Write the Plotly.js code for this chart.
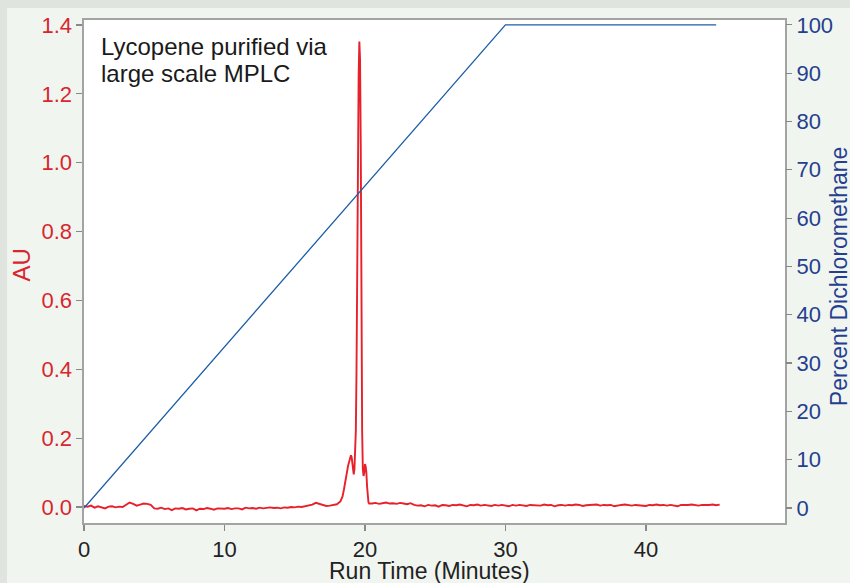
<!DOCTYPE html>
<html>
<head>
<meta charset="utf-8">
<script src="https://cdn.plot.ly/plotly-3.0.1.min.js"></script>
<style>
  html, body { margin: 0; padding: 0; background: #dfe4df; width: 850px; height: 583px; overflow: hidden; }
  #chart { position: absolute; left: 7px; top: 8px; width: 843px; height: 575px; }
</style>
</head>
<body>
<div id="chart"></div>
<script>
// Chromatogram (absorbance, AU) vs run time (minutes)
const runTime = [
  0,0.25,0.5,0.75,1,1.25,1.5,1.75,
  2,2.25,2.5,2.75,3,3.25,3.5,3.75,
  4,4.25,4.5,4.75,5,5.25,5.5,5.75,
  6,6.25,6.5,6.75,7,7.25,7.5,7.75,
  8,8.25,8.5,8.75,9,9.25,9.5,9.75,
  10,10.25,10.5,10.75,11,11.25,11.5,11.75,
  12,12.25,12.5,12.75,13,13.25,13.5,13.75,
  14,14.25,14.5,14.75,15,15.25,15.5,15.75,
  16,16.25,16.5,16.75,17,17.25,17.5,17.75,
  18,18.25,
  18.4,18.5,18.6,18.7,18.8,18.9,19,19.05,
  19.1,19.15,19.2,19.25,19.3,19.35,19.4,19.45,
  19.5,19.55,19.6,19.65,19.7,19.75,19.8,19.85,
  19.9,19.95,20,20.05,20.1,20.15,20.2,20.25,
  20.3,20.4,
  20.5,20.75,21,21.25,21.5,21.75,22,22.25,
  22.5,22.75,23,23.25,23.5,23.75,24,24.25,
  24.5,24.75,25,25.25,25.5,25.75,26,26.25,
  26.5,26.75,27,27.25,27.5,27.75,28,28.25,
  28.5,28.75,29,29.25,29.5,29.75,30,30.25,
  30.5,30.75,31,31.25,31.5,31.75,32,32.25,
  32.5,32.75,33,33.25,33.5,33.75,34,34.25,
  34.5,34.75,35,35.25,35.5,35.75,36,36.25,
  36.5,36.75,37,37.25,37.5,37.75,38,38.25,
  38.5,38.75,39,39.25,39.5,39.75,40,40.25,
  40.5,40.75,41,41.25,41.5,41.75,42,42.25,
  42.5,42.75,43,43.25,43.5,43.75,44,44.25,
  44.5,44.75,45,45.25
];
const absorbance = [
  0.003,0.001,0.004,-0.002,0.002,0.000,-0.004,0.001,
  0.002,-0.001,0.001,0.000,0.006,0.013,0.009,0.004,
  0.007,0.010,0.009,0.006,-0.004,-0.005,-0.002,-0.006,
  -0.004,-0.009,-0.004,-0.005,-0.003,-0.007,-0.005,-0.004,
  -0.010,-0.005,-0.006,-0.003,-0.005,-0.008,-0.004,-0.005,
  -0.005,-0.003,-0.006,-0.004,-0.004,-0.007,-0.002,-0.004,
  -0.003,-0.005,-0.002,-0.004,-0.003,-0.001,-0.003,-0.002,
  -0.004,-0.001,-0.002,0.000,-0.001,0.001,0.000,0.002,
  0.004,0.007,0.012,0.009,0.005,0.003,0.004,0.005,
  0.008,0.016,
  0.03,0.05,0.075,0.10,0.12,0.135,0.15,0.145,
  0.13,0.105,0.095,0.11,0.16,0.22,0.40,0.75,
  1.05,1.25,1.352,1.30,1.05,0.55,0.22,0.11,
  0.09,0.10,0.125,0.118,0.10,0.06,0.025,0.013,
  0.010,0.011,
  0.010,0.012,0.009,0.011,0.013,0.010,0.011,0.009,
  0.012,0.010,0.008,0.011,0.006,0.004,0.005,0.002,
  0.006,0.004,0.005,0.001,0.006,0.005,0.003,0.006,
  0.005,0.007,0.004,0.002,0.006,0.005,0.007,0.004,
  0.006,0.005,0.003,0.006,0.004,0.006,0.005,0.002,
  0.006,0.004,0.006,0.005,0.003,0.006,0.005,0.006,
  0.004,0.007,0.005,0.006,0.002,0.005,0.006,0.004,
  0.006,0.005,0.007,0.006,0.003,0.005,0.006,0.005,
  0.007,0.004,0.006,0.005,0.006,0.002,0.005,0.006,
  0.007,0.005,0.004,0.006,0.005,0.006,0.003,0.006,
  0.005,0.007,0.005,0.006,0.004,0.006,0.005,0.002,
  0.006,0.005,0.006,0.007,0.005,0.004,0.006,0.005,
  0.006,0.007,0.005,0.007
];

// Solvent gradient (percent dichloromethane)
const gradientTime = [0, 30, 45];
const gradientPercent = [0, 100, 100];

// Tick labels
const xTicks = [0, 10, 20, 30, 40];
const auTicks = [0, 0.2, 0.4, 0.6, 0.8, 1.0, 1.2, 1.4];
const pctTicks = [0, 10, 20, 30, 40, 50, 60, 70, 80, 90, 100];

// Texts
const noteLines = ['Lycopene purified via', 'large scale MPLC'];
const xTitle = 'Run Time (Minutes)';
const yTitle = 'AU';
const y2Title = 'Percent Dichloromethane';

const RED = '#e8202a';
const RED_TXT = '#d9262e';
const BLUE_LINE = '#1c5ea8';
const BLUE_TXT = '#253f8e';
const FONT = 'Liberation Sans, Arial, sans-serif';

const traces = [
  {
    x: gradientTime, y: gradientPercent, yaxis: 'y2',
    type: 'scatter', mode: 'lines',
    line: { color: BLUE_LINE, width: 1.3 },
    hoverinfo: 'skip'
  },
  {
    x: runTime, y: absorbance, yaxis: 'y',
    type: 'scatter', mode: 'lines',
    line: { color: RED, width: 1.9 },
    hoverinfo: 'skip'
  }
];

const layout = {
  width: 843, height: 575,
  margin: { l: 77, r: 65, t: 12, b: 60 },
  paper_bgcolor: '#f1f5f0',
  plot_bgcolor: '#ffffff',
  showlegend: false,
  font: { family: FONT, size: 21 },
  xaxis: {
    range: [0, 49.9],
    tickvals: xTicks,
    ticks: 'outside', ticklen: 6, tickcolor: '#888888', tickwidth: 1.2,
    showline: true, linecolor: '#a3a3a3', linewidth: 1.6, mirror: true,
    showgrid: false, zeroline: false,
    tickfont: { family: FONT, size: 22, color: '#222222' }
  },
  yaxis: {
    range: [-0.0465, 1.4145],
    tickvals: auTicks, tickformat: '.1f',
    ticks: 'outside', ticklen: 6, tickcolor: '#888888', tickwidth: 1.2,
    showline: true, linecolor: '#a3a3a3', linewidth: 1.6, mirror: true,
    showgrid: false, zeroline: false,
    tickfont: { family: FONT, size: 22, color: RED_TXT }
  },
  yaxis2: {
    range: [-3.1, 101.0],
    overlaying: 'y', side: 'right',
    tickvals: pctTicks,
    ticks: 'outside', ticklen: 6, tickcolor: '#888888', tickwidth: 1.2,
    showline: false,
    showgrid: false, zeroline: false,
    tickfont: { family: FONT, size: 22, color: BLUE_TXT }
  },
  annotations: [
    {
      text: noteLines[0],
      xref: 'paper', yref: 'paper', x: 0.021, y: 0.948,
      xanchor: 'left', yanchor: 'middle', align: 'left', showarrow: false,
      font: { family: FONT, size: 24, color: '#1a1a1a' }
    },
    {
      text: noteLines[1],
      xref: 'paper', yref: 'paper', x: 0.021, y: 0.894,
      xanchor: 'left', yanchor: 'middle', align: 'left', showarrow: false,
      font: { family: FONT, size: 24, color: '#1a1a1a' }
    },
    {
      text: xTitle,
      xref: 'paper', yref: 'paper', x: 0.493, y: -0.095,
      xanchor: 'center', yanchor: 'middle', showarrow: false,
      font: { family: FONT, size: 23, color: '#222222' }
    },
    {
      text: yTitle,
      xref: 'paper', yref: 'paper', x: -0.089, y: 0.513, textangle: -90,
      xanchor: 'center', yanchor: 'middle', showarrow: false,
      font: { family: FONT, size: 24, color: RED_TXT }
    },
    {
      text: y2Title,
      xref: 'paper', yref: 'paper', x: 1.0765, y: 0.49, textangle: -90,
      xanchor: 'center', yanchor: 'middle', showarrow: false,
      font: { family: FONT, size: 23, color: BLUE_TXT }
    }
  ]
};

Plotly.newPlot('chart', traces, layout, { displayModeBar: false, staticPlot: true });
</script>
</body>
</html>
